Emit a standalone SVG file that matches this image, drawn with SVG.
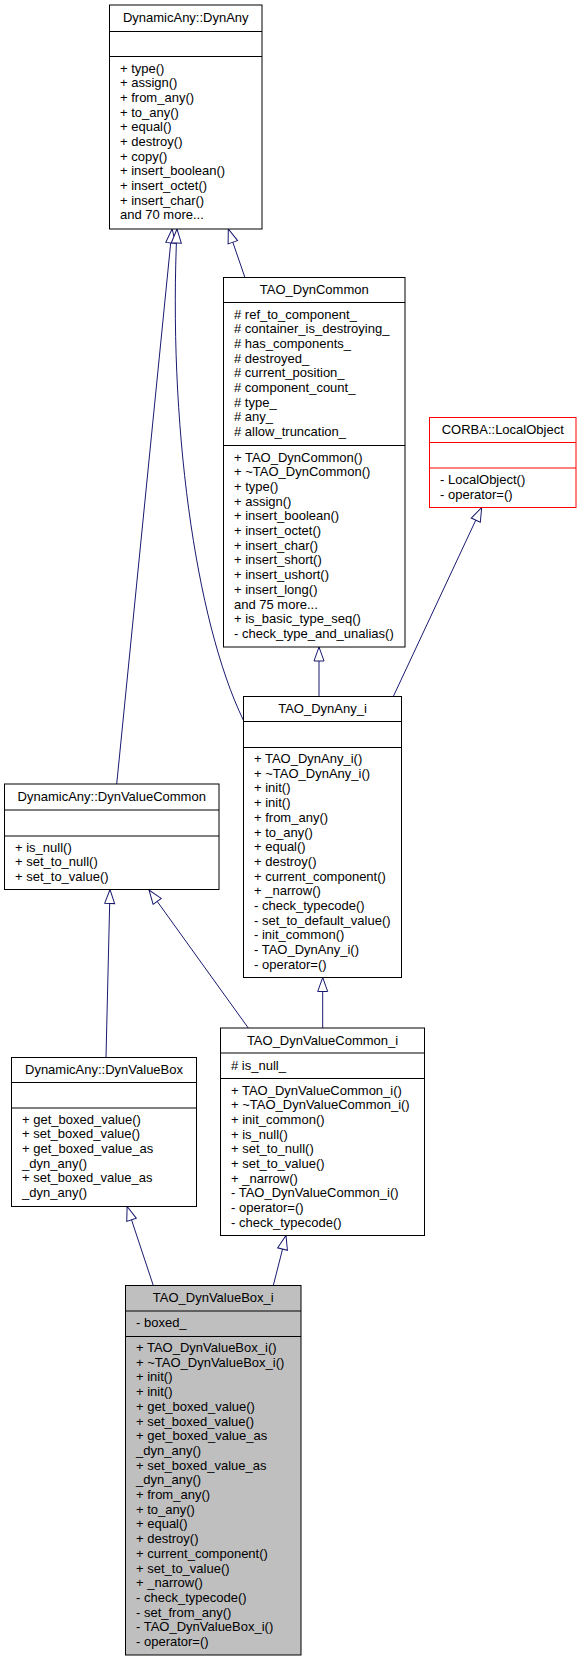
<svg xmlns="http://www.w3.org/2000/svg" width="581" height="1661" viewBox="0 0 581 1661">
<defs>
<style>
.box{fill:#fff;stroke:#000;stroke-width:1}
.sep{stroke:#000;stroke-width:1}
.t{font-family:"Liberation Sans",Arial,sans-serif;font-size:13px;fill:#000}
.c{text-anchor:middle}
.e{fill:none;stroke:#191970;stroke-width:1}
</style>
<marker id="inh" markerUnits="userSpaceOnUse" markerWidth="16" markerHeight="12" refX="14" refY="5" orient="auto" viewBox="-1 -1 16 12">
<path d="M0,0 L14,5 L0,10 Z" fill="#fff" stroke="#191970" stroke-width="1"/>
</marker>
</defs>
<rect width="581" height="1661" fill="#fff"/>

<g id="edges">
<path class="e" d="M116.7,784 L172.1,229" marker-end="url(#inh)"/>
<path class="e" d="M243.3,720 C195,620 168,420 177,229" marker-end="url(#inh)"/>
<path class="e" d="M245,277.7 L228.3,229" marker-end="url(#inh)"/>
<path class="e" d="M319,696.5 L319,647" marker-end="url(#inh)"/>
<path class="e" d="M393.3,696.5 L481.7,507.5" marker-end="url(#inh)"/>
<path class="e" d="M106,1057.5 L110,889.5" marker-end="url(#inh)"/>
<path class="e" d="M248.3,1028 L149,890" marker-end="url(#inh)"/>
<path class="e" d="M322.7,1028 L322.7,977.5" marker-end="url(#inh)"/>
<path class="e" d="M153.3,1285.5 L127.1,1206.5" marker-end="url(#inh)"/>
<path class="e" d="M273.3,1285.5 L286,1235.5" marker-end="url(#inh)"/>
</g>

<g id="DynAny">
<rect class="box" x="109.5" y="5" width="152.5" height="224"/>
<line class="sep" x1="109.5" y1="31.5" x2="262" y2="31.5"/>
<line class="sep" x1="109.5" y1="56.5" x2="262" y2="56.5"/>
<text class="t c" x="185.75" y="21.5">DynamicAny::DynAny</text>
<text class="t" x="120" y="72.5"><tspan x="120">+ type()</tspan><tspan x="120" dy="14.7">+ assign()</tspan><tspan x="120" dy="14.7">+ from_any()</tspan><tspan x="120" dy="14.7">+ to_any()</tspan><tspan x="120" dy="14.7">+ equal()</tspan><tspan x="120" dy="14.7">+ destroy()</tspan><tspan x="120" dy="14.7">+ copy()</tspan><tspan x="120" dy="14.7">+ insert_boolean()</tspan><tspan x="120" dy="14.7">+ insert_octet()</tspan><tspan x="120" dy="14.7">+ insert_char()</tspan><tspan x="120" dy="14.7">and 70 more...</tspan></text>
</g>

<g id="TAO_DynCommon">
<rect class="box" x="223.5" y="277.5" width="181.5" height="369.5"/>
<line class="sep" x1="223.5" y1="302.5" x2="405" y2="302.5"/>
<line class="sep" x1="223.5" y1="445.5" x2="405" y2="445.5"/>
<text class="t c" x="314.25" y="294">TAO_DynCommon</text>
<text class="t" x="234" y="318.5"><tspan x="234"># ref_to_component_</tspan><tspan x="234" dy="14.7"># container_is_destroying_</tspan><tspan x="234" dy="14.7"># has_components_</tspan><tspan x="234" dy="14.7"># destroyed_</tspan><tspan x="234" dy="14.7"># current_position_</tspan><tspan x="234" dy="14.7"># component_count_</tspan><tspan x="234" dy="14.7"># type_</tspan><tspan x="234" dy="14.7"># any_</tspan><tspan x="234" dy="14.7"># allow_truncation_</tspan></text>
<text class="t" x="234" y="461.5"><tspan x="234">+ TAO_DynCommon()</tspan><tspan x="234" dy="14.7">+ ~TAO_DynCommon()</tspan><tspan x="234" dy="14.7">+ type()</tspan><tspan x="234" dy="14.7">+ assign()</tspan><tspan x="234" dy="14.7">+ insert_boolean()</tspan><tspan x="234" dy="14.7">+ insert_octet()</tspan><tspan x="234" dy="14.7">+ insert_char()</tspan><tspan x="234" dy="14.7">+ insert_short()</tspan><tspan x="234" dy="14.7">+ insert_ushort()</tspan><tspan x="234" dy="14.7">+ insert_long()</tspan><tspan x="234" dy="14.7">and 75 more...</tspan><tspan x="234" dy="14.7">+ is_basic_type_seq()</tspan><tspan x="234" dy="14.7">- check_type_and_unalias()</tspan></text>
</g>

<g id="CORBA_LocalObject">
<rect class="box" x="429.5" y="417.5" width="146.5" height="90" style="stroke:#f00"/>
<line class="sep" x1="429.5" y1="442.5" x2="576" y2="442.5" style="stroke:#f00"/>
<line class="sep" x1="429.5" y1="468" x2="576" y2="468" style="stroke:#f00"/>
<text class="t c" x="502.75" y="433.5">CORBA::LocalObject</text>
<text class="t" x="440" y="484"><tspan x="440">- LocalObject()</tspan><tspan x="440" dy="14.7">- operator=()</tspan></text>
</g>

<g id="TAO_DynAny_i">
<rect class="box" x="243.5" y="696.5" width="158" height="281"/>
<line class="sep" x1="243.5" y1="721.5" x2="401.5" y2="721.5"/>
<line class="sep" x1="243.5" y1="747.5" x2="401.5" y2="747.5"/>
<text class="t c" x="322.5" y="713">TAO_DynAny_i</text>
<text class="t" x="254" y="763"><tspan x="254">+ TAO_DynAny_i()</tspan><tspan x="254" dy="14.7">+ ~TAO_DynAny_i()</tspan><tspan x="254" dy="14.7">+ init()</tspan><tspan x="254" dy="14.7">+ init()</tspan><tspan x="254" dy="14.7">+ from_any()</tspan><tspan x="254" dy="14.7">+ to_any()</tspan><tspan x="254" dy="14.7">+ equal()</tspan><tspan x="254" dy="14.7">+ destroy()</tspan><tspan x="254" dy="14.7">+ current_component()</tspan><tspan x="254" dy="14.7">+ _narrow()</tspan><tspan x="254" dy="14.7">- check_typecode()</tspan><tspan x="254" dy="14.7">- set_to_default_value()</tspan><tspan x="254" dy="14.7">- init_common()</tspan><tspan x="254" dy="14.7">- TAO_DynAny_i()</tspan><tspan x="254" dy="14.7">- operator=()</tspan></text>
</g>

<g id="DynValueCommon">
<rect class="box" x="4.5" y="784" width="214.5" height="105.5"/>
<line class="sep" x1="4.5" y1="810" x2="219" y2="810"/>
<line class="sep" x1="4.5" y1="836" x2="219" y2="836"/>
<text class="t c" x="111.75" y="800.5">DynamicAny::DynValueCommon</text>
<text class="t" x="15" y="851.5"><tspan x="15">+ is_null()</tspan><tspan x="15" dy="14.7">+ set_to_null()</tspan><tspan x="15" dy="14.7">+ set_to_value()</tspan></text>
</g>

<g id="TAO_DynValueCommon_i">
<rect class="box" x="220.5" y="1028" width="204" height="207.5"/>
<line class="sep" x1="220.5" y1="1053" x2="424.5" y2="1053"/>
<line class="sep" x1="220.5" y1="1078.5" x2="424.5" y2="1078.5"/>
<text class="t c" x="322.5" y="1044.5">TAO_DynValueCommon_i</text>
<text class="t" x="231" y="1069.5"># is_null_</text>
<text class="t" x="231" y="1094.5"><tspan x="231">+ TAO_DynValueCommon_i()</tspan><tspan x="231" dy="14.7">+ ~TAO_DynValueCommon_i()</tspan><tspan x="231" dy="14.7">+ init_common()</tspan><tspan x="231" dy="14.7">+ is_null()</tspan><tspan x="231" dy="14.7">+ set_to_null()</tspan><tspan x="231" dy="14.7">+ set_to_value()</tspan><tspan x="231" dy="14.7">+ _narrow()</tspan><tspan x="231" dy="14.7">- TAO_DynValueCommon_i()</tspan><tspan x="231" dy="14.7">- operator=()</tspan><tspan x="231" dy="14.7">- check_typecode()</tspan></text>
</g>

<g id="DynValueBox">
<rect class="box" x="11.5" y="1057.5" width="185" height="149"/>
<line class="sep" x1="11.5" y1="1082.5" x2="196.5" y2="1082.5"/>
<line class="sep" x1="11.5" y1="1108" x2="196.5" y2="1108"/>
<text class="t c" x="104" y="1074">DynamicAny::DynValueBox</text>
<text class="t" x="22" y="1123.5"><tspan x="22">+ get_boxed_value()</tspan><tspan x="22" dy="14.7">+ set_boxed_value()</tspan><tspan x="22" dy="14.7">+ get_boxed_value_as</tspan><tspan x="22" dy="14.7">_dyn_any()</tspan><tspan x="22" dy="14.7">+ set_boxed_value_as</tspan><tspan x="22" dy="14.7">_dyn_any()</tspan></text>
</g>

<g id="TAO_DynValueBox_i">
<rect class="box" x="125.5" y="1285.5" width="175.5" height="369.5" style="fill:#bfbfbf"/>
<line class="sep" x1="125.5" y1="1311" x2="301" y2="1311"/>
<line class="sep" x1="125.5" y1="1336.5" x2="301" y2="1336.5"/>
<text class="t c" x="213.25" y="1302">TAO_DynValueBox_i</text>
<text class="t" x="136" y="1326.5">- boxed_</text>
<text class="t" x="136" y="1352"><tspan x="136">+ TAO_DynValueBox_i()</tspan><tspan x="136" dy="14.7">+ ~TAO_DynValueBox_i()</tspan><tspan x="136" dy="14.7">+ init()</tspan><tspan x="136" dy="14.7">+ init()</tspan><tspan x="136" dy="14.7">+ get_boxed_value()</tspan><tspan x="136" dy="14.7">+ set_boxed_value()</tspan><tspan x="136" dy="14.7">+ get_boxed_value_as</tspan><tspan x="136" dy="14.7">_dyn_any()</tspan><tspan x="136" dy="14.7">+ set_boxed_value_as</tspan><tspan x="136" dy="14.7">_dyn_any()</tspan><tspan x="136" dy="14.7">+ from_any()</tspan><tspan x="136" dy="14.7">+ to_any()</tspan><tspan x="136" dy="14.7">+ equal()</tspan><tspan x="136" dy="14.7">+ destroy()</tspan><tspan x="136" dy="14.7">+ current_component()</tspan><tspan x="136" dy="14.7">+ set_to_value()</tspan><tspan x="136" dy="14.7">+ _narrow()</tspan><tspan x="136" dy="14.7">- check_typecode()</tspan><tspan x="136" dy="14.7">- set_from_any()</tspan><tspan x="136" dy="14.7">- TAO_DynValueBox_i()</tspan><tspan x="136" dy="14.7">- operator=()</tspan></text>
</g>
</svg>
